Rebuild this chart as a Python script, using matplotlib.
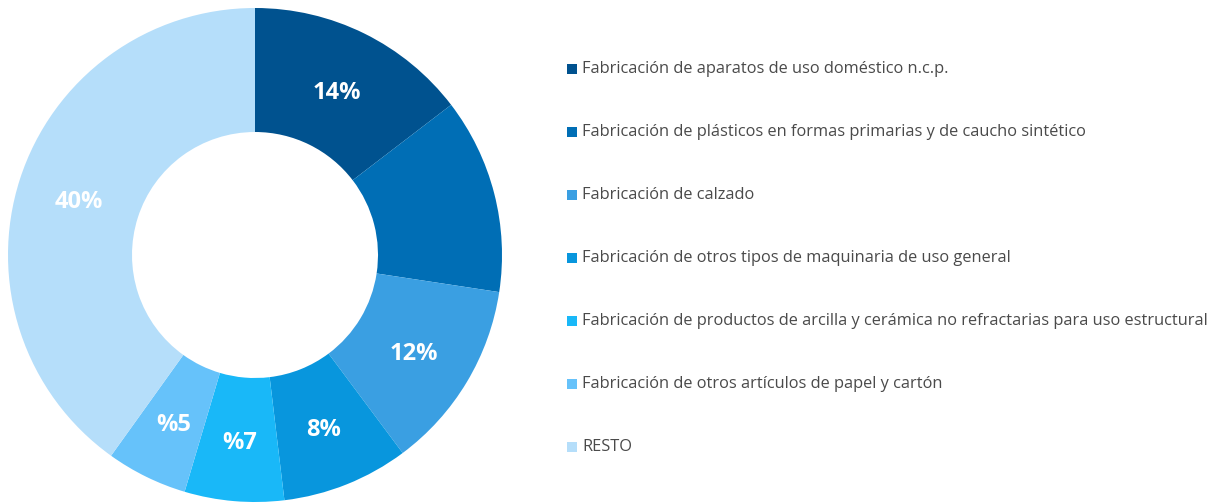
import matplotlib
matplotlib.use("Agg")
import matplotlib.pyplot as plt
from matplotlib.patches import Rectangle
import numpy as np

categories = [
    "Fabricación de aparatos de uso doméstico n.c.p.",
    "Fabricación de plásticos en formas primarias y de caucho sintético",
    "Fabricación de calzado",
    "Fabricación de otros tipos de maquinaria de uso general",
    "Fabricación de productos de arcilla y cerámica no refractarias para uso estructural",
    "Fabricación de otros artículos de papel y cartón",
    "RESTO",
]
values = [14.6, 12.8, 12.4, 8.3, 6.5, 5.3, 40.1]
slice_labels = ["14%", "", "12%", "8%", "%7", "%5", "40%"]
colors = ["#00528f", "#006eb5", "#3a9fe2", "#0896dd", "#19b8f8", "#66c2fa", "#b5defa"]

W, H = 1222, 503
fig = plt.figure(figsize=(W / 100, H / 100), dpi=100)
fig.patch.set_facecolor("white")

cx, cy, R = 255, 255, 247
ax = fig.add_axes([(cx - R) / W, (H - cy - R) / H, 2 * R / W, 2 * R / H])
rin = 123 / R
wedges, _ = ax.pie(values, colors=colors, startangle=90, counterclock=False,
                   radius=1, wedgeprops=dict(width=1 - rin, linewidth=0))
rmid = (1 + rin) / 2
for w, lab in zip(wedges, slice_labels):
    if not lab:
        continue
    ang = np.deg2rad((w.theta1 + w.theta2) / 2)
    ax.text(rmid * np.cos(ang), rmid * np.sin(ang) - 0.015, lab, ha="center", va="center",
            color="white", fontsize=17, fontweight="bold", family="Open Sans")
ax.set_xlim(-1, 1)
ax.set_ylim(-1, 1)
ax.axis("off")

y0, dy = 69, 63
for i, (cat, col) in enumerate(zip(categories, colors)):
    y = y0 + i * dy
    fig.patches.append(Rectangle((567 / W, (H - y - 5) / H), 10 / W, 10 / H,
                                 transform=fig.transFigure, facecolor=col, edgecolor="none"))
    fig.text(582 / W, (H - y) / H, cat, ha="left", va="center", fontsize=11.8,
             color="#4a4a4a", family="Open Sans")

fig.savefig("out.png", dpi=100, facecolor="white")
